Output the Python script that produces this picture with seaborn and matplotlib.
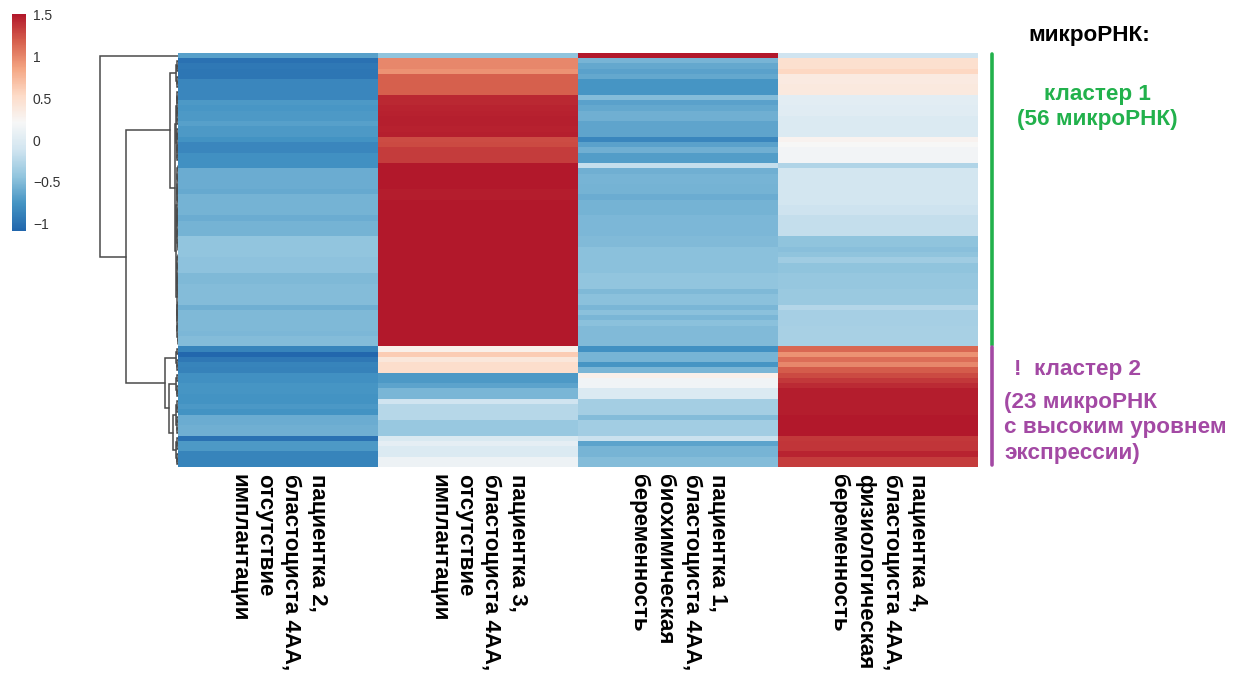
import numpy as np
import pandas as pd
import matplotlib
matplotlib.use("Agg")
import matplotlib.pyplot as plt
import matplotlib.transforms as mtransforms
from matplotlib.colors import LinearSegmentedColormap
import seaborn as sns

# ---- data -------------------------------------------------------------
# samples in display order
SAMPLE_LABELS = [
    "пациентка 2,\nбластоциста 4АА,\nотсутствие\nимплантации",
    "пациентка 3,\nбластоциста 4АА,\nотсутствие\nимплантации",
    "пациентка 1,\nбластоциста 4АА,\nбиохимическая\nбеременность",
    "пациентка 4,\nбластоциста 4АА,\nфизиологическая\nбеременность",
]

# row-scaled microRNA expression, rows in dendrogram order
PATIENT2 = [
    -0.68, -1.00, -0.95, -0.97, -0.97, -0.85, -0.85, -0.85, -0.85, -0.72,
    -0.74, -0.72, -0.72, -0.68, -0.72, -0.72, -0.76, -0.85, -0.85, -0.78,
    -0.78, -0.78, -0.60, -0.60, -0.60, -0.60, -0.62, -0.56, -0.56, -0.56,
    -0.56, -0.60, -0.56, -0.56, -0.56, -0.44, -0.44, -0.44, -0.44, -0.46,
    -0.46, -0.46, -0.52, -0.52, -0.50, -0.50, -0.50, -0.50, -0.58, -0.52,
    -0.52, -0.52, -0.52, -0.53, -0.50, -0.50,
    -0.87, -1.07, -0.95, -0.87, -0.88, -0.78, -0.78, -0.75, -0.75, -0.76,
    -0.76, -0.73, -0.76, -0.60, -0.60, -0.58, -0.58, -1.00, -0.72, -0.72,
    -0.87, -0.87, -0.87,
]
PATIENT3 = [
    -0.45, 1.00, 1.00, 0.95, 1.18, 1.18, 1.18, 1.18, 1.43, 1.43,
    1.45, 1.46, 1.47, 1.47, 1.46, 1.47, 1.27, 1.28, 1.34, 1.34,
    1.34, 1.51, 1.51, 1.51, 1.51, 1.51, 1.48, 1.48, 1.51, 1.51,
    1.51, 1.51, 1.51, 1.51, 1.51, 1.51, 1.51, 1.51, 1.51, 1.51,
    1.51, 1.51, 1.51, 1.51, 1.51, 1.51, 1.51, 1.51, 1.51, 1.51,
    1.51, 1.51, 1.51, 1.51, 1.51, 1.51,
    0.30, 0.62, 0.40, 0.50, 0.50, -0.72, -0.72, -0.66, -0.54, -0.54,
    -0.12, -0.25, -0.25, -0.25, -0.40, -0.40, -0.40, -0.05, 0.05, -0.03,
    -0.03, 0.12, 0.12,
]
PATIENT1 = [
    1.50, -0.55, -0.63, -0.67, -0.63, -0.75, -0.75, -0.75, -0.50, -0.67,
    -0.63, -0.58, -0.58, -0.65, -0.65, -0.65, -0.85, -0.67, -0.58, -0.70,
    -0.70, -0.18, -0.58, -0.55, -0.55, -0.56, -0.56, -0.60, -0.56, -0.56,
    -0.56, -0.53, -0.53, -0.53, -0.53, -0.51, -0.51, -0.47, -0.47, -0.47,
    -0.47, -0.47, -0.44, -0.44, -0.44, -0.52, -0.47, -0.47, -0.54, -0.47,
    -0.54, -0.47, -0.51, -0.51, -0.51, -0.51,
    -0.78, -0.55, -0.55, -0.75, -0.54, 0.30, 0.15, 0.15, -0.03, -0.03,
    -0.34, -0.34, -0.34, -0.50, -0.35, -0.35, -0.35, -0.15, -0.66, -0.55,
    -0.55, -0.50, -0.50,
]
PATIENT4 = [
    -0.12, 0.48, 0.48, 0.55, 0.36, 0.36, 0.38, 0.38, 0.03, 0.03,
    0.01, 0.01, -0.03, -0.03, -0.03, -0.03, 0.27, 0.22, 0.16, 0.16,
    0.16, -0.28, -0.10, -0.10, -0.10, -0.10, -0.10, -0.10, -0.10, -0.13,
    -0.13, -0.18, -0.18, -0.18, -0.18, -0.45, -0.45, -0.48, -0.45, -0.36,
    -0.45, -0.45, -0.41, -0.41, -0.41, -0.39, -0.39, -0.39, -0.26, -0.33,
    -0.33, -0.33, -0.32, -0.32, -0.32, -0.32,
    1.15, 0.95, 1.12, 1.00, 1.20, 1.28, 1.36, 1.42, 1.48, 1.48,
    1.48, 1.48, 1.48, 1.51, 1.51, 1.51, 1.51, 1.36, 1.37, 1.37,
    1.45, 1.34, 1.34,
]

# colour scale limits and legend ticks
SCALE_MIN, SCALE_MAX = -1.09, 1.51
LEGEND_TICKS = [-1, -0.5, 0, 0.5, 1, 1.5]

# row clusters (sizes in dendrogram order)
CLUSTER_SIZES = [56, 23]

# row dendrogram: [height, left, right] merges; [height, n] is a tight
# group of n neighbouring rows; 1 is a single row
ROW_TREE = [1.00, 1,
            [0.67,
             [0.103, [0.025, 6], [0.042, [0.030, 14], [0.032, 35]]],
             [0.167, [0.020, 5],
              [0.112, [0.022, 5], [0.060, [0.028, 7], [0.025, 6]]]]]]

# ---- style ------------------------------------------------------------
sns.set_style("white")
plt.rcParams["font.family"] = ["Liberation Sans", "DejaVu Sans"]

W, H = 1249, 677
fig = plt.figure(figsize=(W / 100, H / 100), dpi=100)


def frac(x0, y0, w, h):
    return [x0 / W, 1 - (y0 + h) / H, w / W, h / H]


ax_heat = fig.add_axes(frac(178, 53, 800, 414))
ax_dend = fig.add_axes(frac(98, 53, 80, 414))
ax_cbar = fig.add_axes(frac(12, 14, 14, 217))

palette = ["#2166AC", "#4393C3", "#92C5DE", "#D1E5F0", "#F7F7F7",
           "#FDDBC7", "#F4A582", "#D6604D", "#B2182B"]
cmap = LinearSegmentedColormap.from_list("rdbu9", palette, N=256)

df = pd.DataFrame({
    SAMPLE_LABELS[0]: PATIENT2,
    SAMPLE_LABELS[1]: PATIENT3,
    SAMPLE_LABELS[2]: PATIENT1,
    SAMPLE_LABELS[3]: PATIENT4,
})
n_rows = len(df)

sns.heatmap(df, ax=ax_heat, cmap=cmap, vmin=SCALE_MIN, vmax=SCALE_MAX,
            cbar_ax=ax_cbar, yticklabels=False, xticklabels=True,
            linewidths=0)
ax_heat.set_xlabel("")
ax_heat.set_ylabel("")
ax_heat.tick_params(axis="x", length=0, pad=5)
for lab in ax_heat.get_xticklabels():
    lab.set_rotation(270)
    lab.set_ha("center")
    lab.set_va("top")
    lab.set_multialignment("left")
    lab.set_fontsize(16)
    lab.set_fontweight("bold")
    lab.set_color("black")
    lab.set_linespacing(1.32)

# colour legend
cbar = ax_heat.collections[0].colorbar
cbar.outline.set_visible(False)
cbar.set_ticks(LEGEND_TICKS)
cbar.set_ticklabels([f"{t:g}".replace("-", "\u2212") for t in LEGEND_TICKS])
cbar.ax.tick_params(length=0, pad=5, labelsize=10, labelcolor="#333333")


# ---- row dendrogram ---------------------------------------------------
def expand(node):
    if node == 1 or len(node) == 3:
        return node
    h, n = node
    if n == 1:
        return 1
    a = n // 2
    return [h, expand([h * 0.6, a]), expand([h * 0.6, n - a])]


def draw_tree(node, first):
    node = expand(node)
    if node == 1:
        return first + 0.5, 0.0, 1
    h, left, right = node
    y1, h1, n1 = draw_tree(left, first)
    y2, h2, n2 = draw_tree(right, first + n1)
    ax_dend.plot([h1, h, h, h2], [y1, y1, y2, y2], color="#4a4a4a",
                 lw=1.1, solid_joinstyle="miter")
    return (y1 + y2) / 2, h, n1 + n2


draw_tree(ROW_TREE, 0)
ax_dend.set_xlim(1.03, 0)
ax_dend.set_ylim(n_rows, 0)
ax_dend.axis("off")

# ---- cluster brackets and captions ------------------------------------
trans = mtransforms.blended_transform_factory(ax_heat.transAxes, ax_heat.transData)
bounds = np.concatenate([[0], np.cumsum(CLUSTER_SIZES)])
bracket_colors = ["#22B14C", "#A349A4"]
for i, col in enumerate(bracket_colors):
    ax_heat.plot([1.0175, 1.0175], [bounds[i] + 0.15, bounds[i + 1] - 0.35],
                 transform=trans, color=col, lw=2.6, clip_on=False,
                 solid_capstyle="round")

fs = 16.2
fig.text(1089 / W, 1 - 35.5 / H, "микроРНК:", ha="center", va="center",
         fontsize=fs, fontweight="bold", color="black")
fig.text(1097 / W, 1 - 107 / H, f"кластер 1\n({CLUSTER_SIZES[0]} микроРНК)",
         ha="center", va="center", multialignment="center", fontsize=fs,
         fontweight="bold", color=bracket_colors[0], linespacing=1.3)
fig.text(1014 / W, 1 - 369 / H, "!  кластер 2", ha="left", va="center",
         fontsize=fs, fontweight="bold", color=bracket_colors[1])
fig.text(1004 / W, 1 - 428 / H,
         f"({CLUSTER_SIZES[1]} микроРНК\nс высоким уровнем\nэкспрессии)",
         ha="left", va="center", multialignment="left", fontsize=fs,
         fontweight="bold", color=bracket_colors[1], linespacing=1.3)

fig.savefig("out.png", dpi=100)
